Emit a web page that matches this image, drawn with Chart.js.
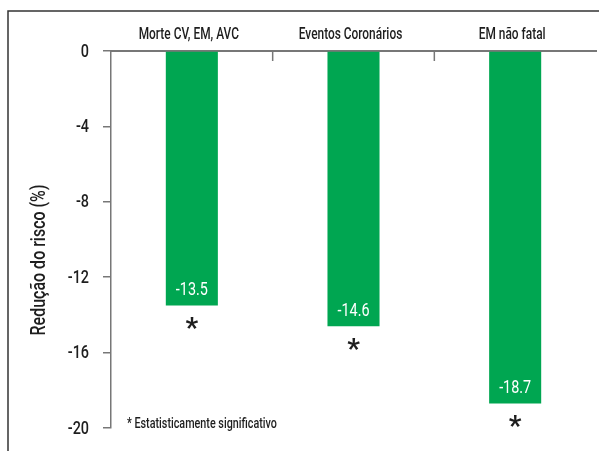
<!DOCTYPE html>
<html lang="pt">

<head>
  <meta charset="UTF-8">
  <title>Redução do risco</title>
  <script src="https://cdn.jsdelivr.net/npm/chart.js"></script>
  <style>
    html, body { margin: 0; padding: 0; background: #fff; }
    #wrap { width: 599px; height: 451px; position: relative; }
  </style>
</head>

<body>
  <div id="wrap"><canvas id="riskChart"></canvas></div>
  <script>
    // data
    const categories = ['Morte CV, EM, AVC', 'Eventos Coronários', 'EM não fatal'];
    const reduction = [-13.5, -14.6, -18.7];
    const significant = [true, true, true];
    const yTicks = [0, -4, -8, -12, -16, -20];
    const yTitle = 'Redução do risco (%)';
    const footnote = '* Estatisticamente significativo';

    const FONT = "Roboto, 'Liberation Sans', sans-serif";
    const GREEN = '#00a651';
    const INK = '#1e1e1e';

    // the original uses a condensed face, so squeeze the text horizontally
    function narrowText(ctx, text, x, y, size, opts) {
      const o = Object.assign({ align: 'center', base: 'middle', sx: 0.8, color: INK, weight: '500' }, opts);
      ctx.save();
      ctx.translate(x, y);
      ctx.scale(o.sx, 1);
      ctx.font = o.weight + ' ' + size + 'px ' + FONT;
      ctx.fillStyle = o.color;
      ctx.textAlign = o.align;
      ctx.textBaseline = o.base;
      ctx.fillText(text, 0, 0);
      ctx.restore();
    }

    const decor = {
      id: 'decor',
      afterDraw(chart) {
        const ctx = chart.ctx;
        const x = chart.scales.x;
        const y = chart.scales.y;
        const area = chart.chartArea;
        ctx.save();

        // outer frame (top and left only)
        ctx.strokeStyle = '#333';
        ctx.lineWidth = 1.5;
        ctx.beginPath();
        ctx.moveTo(8, chart.height);
        ctx.lineTo(8, 11);
        ctx.lineTo(chart.width, 11);
        ctx.stroke();

        // small ticks between categories, hanging from the zero line
        ctx.strokeStyle = '#777';
        ctx.lineWidth = 1.5;
        for (let i = 0; i < categories.length - 1; i++) {
          const px = (x.getPixelForValue(i) + x.getPixelForValue(i + 1)) / 2;
          ctx.beginPath();
          ctx.moveTo(px, area.top);
          ctx.lineTo(px, area.top + 10);
          ctx.stroke();
        }
        ctx.restore();

        // category labels above the zero line
        categories.forEach((c, i) => {
          narrowText(ctx, c, x.getPixelForValue(i) - 3, area.top - 12, 17, { base: 'alphabetic', sx: 0.7 });
        });

        // y tick labels
        y.ticks.forEach(t => {
          narrowText(ctx, String(t.value), area.left - 22, y.getPixelForValue(t.value) + 1, 18, { align: 'right', sx: 0.8 });
        });

        const meta = chart.getDatasetMeta(0);
        meta.data.forEach((bar, i) => {
          narrowText(ctx, reduction[i].toFixed(1), bar.x, bar.y - 15, 18, { color: '#fff', sx: 0.8, weight: 'normal' });

          if (significant[i]) {
            ctx.save();
            ctx.fillStyle = INK;
            ctx.font = 'bold 28px ' + FONT;
            ctx.textAlign = 'center';
            ctx.textBaseline = 'alphabetic';
            const m = ctx.measureText('*');
            const cy = bar.y + 18;
            ctx.fillText('*', bar.x, cy + (m.actualBoundingBoxAscent - m.actualBoundingBoxDescent) / 2);
            ctx.restore();
          }
        });

        // footnote
        narrowText(ctx, footnote, 127, 424, 14, { align: 'left', sx: 0.77 });

        // rotated axis title
        ctx.save();
        ctx.translate(40, 260);
        ctx.rotate(-Math.PI / 2);
        narrowText(ctx, yTitle, 0, 0, 20, { sx: 0.8 });
        ctx.restore();
      }
    };

    new Chart(document.getElementById('riskChart'), {
      type: 'bar',
      data: {
        labels: categories,
        datasets: [{
          data: reduction,
          backgroundColor: GREEN,
          borderWidth: 0,
          categoryPercentage: 1,
          barPercentage: 0.322
        }]
      },
      options: {
        responsive: true,
        maintainAspectRatio: false,
        animation: false,
        events: [],
        layout: { padding: { left: 0, right: 3, top: 0, bottom: 23 } },
        plugins: {
          legend: { display: false },
          tooltip: { enabled: false }
        },
        scales: {
          x: {
            position: 'top',
            grid: { display: false, drawTicks: false },
            border: { display: true, color: '#777', width: 2 },
            ticks: { display: false },
            afterFit(scale) { scale.height = 51; }
          },
          y: {
            min: -20,
            max: 0,
            afterBuildTicks(scale) {
              scale.ticks = yTicks.map(v => ({ value: v }));
            },
            grid: {
              drawOnChartArea: false,
              drawTicks: true,
              tickLength: 8,
              color: '#777',
              lineWidth: 1.5
            },
            border: { display: true, color: '#777', width: 1.5 },
            ticks: { display: false },
            afterFit(scale) { scale.width = 111; }
          }
        }
      },
      plugins: [decor]
    });
  </script>
</body>

</html>
